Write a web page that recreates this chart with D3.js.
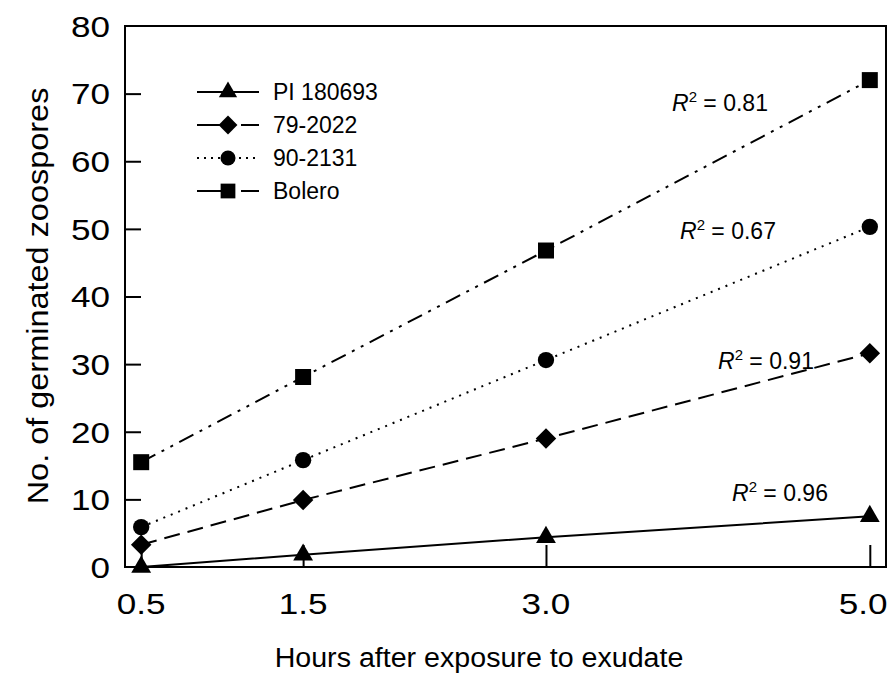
<!DOCTYPE html>
<html>
<head>
<meta charset="utf-8">
<script src="https://cdn.jsdelivr.net/npm/d3@7"></script>
<style>
  body { margin: 0; background: #fff; }
  svg text { font-family: "Liberation Sans", Arial, sans-serif; fill: #000; }
  .frame { fill: none; stroke: #000; stroke-width: 2; }
  .tick line { stroke: #000; stroke-width: 2; }
  .serie { fill: none; stroke: #000; stroke-width: 2; }
</style>
</head>
<body>
<div id="chart"></div>
<script>
// Germinated zoospores vs hours after exposure
var hours = [0.5, 1.5, 3.0, 5.0];
var xTickLabels = ["0.5", "1.5", "3.0", "5.0"];
var yTicks = [0, 10, 20, 30, 40, 50, 60, 70, 80];

var seriesNames = ["PI 180693", "79-2022", "90-2131", "Bolero"];
var pi180693 = [0.0, 1.8, 4.4, 7.5];
var l792022 = [3.3, 9.9, 19.0, 31.6];
var l902131 = [5.9, 15.8, 30.6, 50.3];
var bolero = [15.5, 28.1, 46.8, 72.0];
var rSquared = ["0.96", "0.91", "0.67", "0.81"];

var width = 891, height = 674;
var margin = {left: 125, right: 5, top: 26, bottom: 107};
var innerW = width - margin.left - margin.right;
var innerH = height - margin.top - margin.bottom;

var svg = d3.select("#chart").append("svg")
    .attr("width", width)
    .attr("height", height);

var x = d3.scaleLinear().domain([0.4, 5.1]).range([0, innerW]);
var y = d3.scaleLinear().domain([0, 80]).range([innerH, 0]);

var g = svg.append("g")
    .attr("transform", "translate(" + margin.left + "," + margin.top + ")");

// styles per series
var dashes = [null, "16,8", "2,6", "16,7,3,7,3,7"];
var symbols = [
    {type: d3.symbolTriangle, size: 170, rot: 0},
    {type: d3.symbolSquare, size: 210, rot: 45},
    {type: d3.symbolCircle, size: 210, rot: 0},
    {type: d3.symbolSquare, size: 256, rot: 0}
];
var allSeries = [pi180693, l792022, l902131, bolero];

// axes (inward ticks)
var yAxis = d3.axisLeft(y).tickValues(yTicks.slice(1, -1)).tickSize(-16).tickFormat("");
g.append("g").attr("class", "y axis").call(yAxis).select(".domain").remove();

var xAxis = d3.axisBottom(x).tickValues(hours).tickSize(-22).tickFormat("");
g.append("g").attr("class", "x axis").attr("transform", "translate(0," + innerH + ")")
    .call(xAxis).select(".domain").remove();

// tick labels, a little wider than Liberation Sans
var stretch = 1.17;
g.selectAll(".ylab").data(yTicks).enter().append("text")
    .attr("class", "ylab")
    .attr("transform", function (d) { return "translate(-15," + y(d) + ") scale(" + stretch + ",1)"; })
    .attr("dy", "0.36em")
    .attr("text-anchor", "end")
    .style("font-size", "30px")
    .text(function (d) { return d; });

// last label sits against the page edge, keep it inside
g.selectAll(".xlab").data(hours).enter().append("text")
    .attr("class", "xlab")
    .attr("transform", function (d) {
        var px = Math.min(x(d), innerW - 23);
        return "translate(" + px + "," + (innerH + 47) + ") scale(" + stretch + ",1)";
    })
    .attr("text-anchor", "middle")
    .style("font-size", "30px")
    .text(function (d, i) { return xTickLabels[i]; });

// frame
g.append("rect").attr("class", "frame")
    .attr("x", 0).attr("y", 0).attr("width", innerW).attr("height", innerH);

// axis titles
svg.append("text")
    .attr("transform", "translate(48,296) rotate(-90) scale(1.12,1)")
    .attr("text-anchor", "middle")
    .style("font-size", "29px")
    .text("No. of germinated zoospores");

svg.append("text")
    .attr("transform", "translate(479,667) scale(1.06,1)")
    .attr("text-anchor", "middle")
    .style("font-size", "27px")
    .text("Hours after exposure to exudate");

// lines
var line = d3.line()
    .x(function (d, i) { return x(hours[i]); })
    .y(function (d) { return y(d); });

allSeries.forEach(function (vals, s) {
    g.append("path").attr("class", "serie")
        .attr("d", line(vals))
        .style("stroke-dasharray", dashes[s]);
});

function symPath(s, k) {
    return d3.symbol().type(symbols[s].type).size(symbols[s].size * k)();
}

allSeries.forEach(function (vals, s) {
    g.selectAll(".m" + s).data(vals).enter().append("path")
        .attr("class", "m" + s)
        .attr("d", symPath(s, 1))
        .attr("transform", function (d, i) {
            return "translate(" + x(hours[i]) + "," + y(d) + ") rotate(" + symbols[s].rot + ")";
        })
        .style("fill", "#000");
});

// R squared labels
var rPos = [[607, 475], [593, 343], [555, 213], [547, 85]];
rSquared.forEach(function (r, s) {
    var t = g.append("text")
        .attr("x", rPos[s][0])
        .attr("y", rPos[s][1])
        .style("font-size", "23px");
    t.append("tspan").style("font-style", "italic").text("R");
    t.append("tspan").attr("dy", "-9").style("font-size", "15px").text("2");
    t.append("tspan").attr("dy", "9").text(" = " + r);
});

// legend
var legend = svg.append("g").attr("transform", "translate(197,92)");
seriesNames.forEach(function (name, s) {
    var row = legend.append("g").attr("transform", "translate(0," + (s * 33) + ")");
    row.append("line").attr("class", "serie")
        .attr("x1", 0).attr("x2", 62).attr("y1", 0).attr("y2", 0)
        .style("stroke-dasharray", s === 0 ? null : (s === 2 ? "2,5" : "24,8,4,8"));
    row.append("path")
        .attr("d", symPath(s, 0.85))
        .attr("transform", "translate(31,0) rotate(" + symbols[s].rot + ")")
        .style("fill", "#000");
    row.append("text")
        .attr("x", 76).attr("y", 0).attr("dy", "0.36em")
        .style("font-size", "23px")
        .text(name);
});
</script>
</body>
</html>
